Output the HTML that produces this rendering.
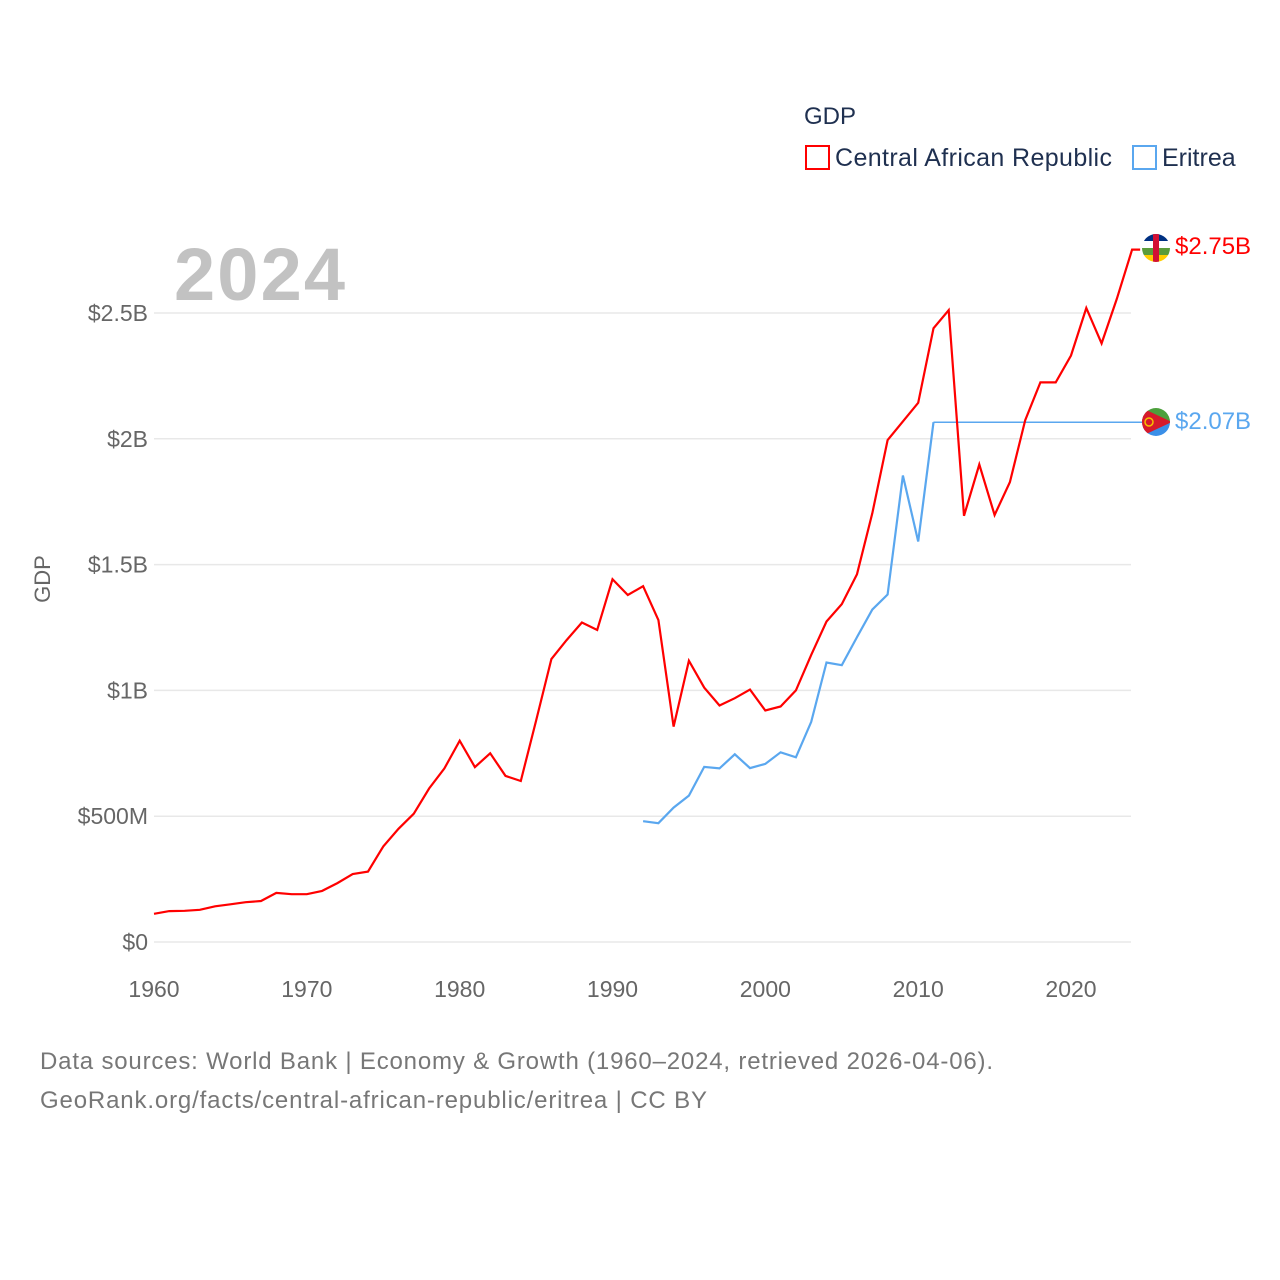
<!DOCTYPE html>
<html><head><meta charset="utf-8">
<style>
html,body{margin:0;padding:0;background:#fff;}
svg{display:block;font-family:"Liberation Sans",sans-serif;}
</style></head>
<body>
<svg id="chart" width="1280" height="1280" viewBox="0 0 1280 1280">
  <g id="grid"></g>
  <g id="yticks"></g>
  <g id="xticks"></g>
  <text x="174" y="300" font-size="74" font-weight="bold" fill="#c2c2c2" textLength="171">2024</text>
  <text transform="translate(50,579) rotate(-90)" font-size="22" fill="#666" text-anchor="middle">GDP</text>
  <g id="series"></g>
  <g>
    <text x="804" y="124" font-size="24" fill="#1f3050">GDP</text>
    <g>
      <rect x="806" y="146" width="23" height="23" fill="none" stroke="#ff0000" stroke-width="2"/>
      <text x="835" y="166" font-size="25" fill="#1f3050" textLength="277">Central African Republic</text>
    </g>
    <g>
      <rect x="1133" y="146" width="23" height="23" fill="none" stroke="#5aa7ef" stroke-width="2"/>
      <text x="1162" y="166" font-size="25" fill="#1f3050">Eritrea</text>
    </g>
  </g>
  <defs>
    <clipPath id="c1"><circle cx="1156" cy="248" r="14"/></clipPath>
    <clipPath id="c2"><circle cx="1156" cy="422" r="14"/></clipPath>
  </defs>
  <g clip-path="url(#c1)">
    <rect x="1142" y="234" width="28" height="7" fill="#003082"/>
    <rect x="1142" y="241" width="28" height="7" fill="#fff"/>
    <rect x="1142" y="248" width="28" height="7" fill="#5a9c3a"/>
    <rect x="1142" y="255" width="28" height="7" fill="#ffce00"/>
    <rect x="1153" y="234" width="6" height="28" fill="#d21034"/>
  </g>
  <g clip-path="url(#c2)">
    <rect x="1142" y="408" width="28" height="14" fill="#4ca03c"/>
    <rect x="1142" y="422" width="28" height="14" fill="#3a8fe8"/>
    <polygon points="1142,408 1172,422 1142,436" fill="#d71a2b"/>
    <circle cx="1149" cy="422" r="4" fill="none" stroke="#f5c300" stroke-width="1.5"/>
  </g>
  <text id="lab1" x="1175" y="254" font-size="24" fill="#ff0000">$2.75B</text>
  <text id="lab2" x="1175" y="429" font-size="24" fill="#5aa7ef">$2.07B</text>
  <text x="40" y="1069" font-size="24" fill="#777" textLength="953">Data sources: World Bank | Economy &amp; Growth (1960–2024, retrieved 2026-04-06).</text>
  <text x="40" y="1108" font-size="24" fill="#777" textLength="667">GeoRank.org/facts/central-african-republic/eritrea | CC BY</text>
</svg>
<script>
const carYears = [1960,1961,1962,1963,1964,1965,1966,1967,1968,1969,1970,1971,1972,1973,1974,1975,1976,1977,1978,1979,1980,1981,1982,1983,1984,1985,1986,1987,1988,1989,1990,1991,1992,1993,1994,1995,1996,1997,1998,1999,2000,2001,2002,2003,2004,2005,2006,2007,2008,2009,2010,2011,2012,2013,2014,2015,2016,2017,2018,2019,2020,2021,2022,2023,2024];
const carValues = [0.112,0.123,0.124,0.128,0.142,0.15,0.158,0.163,0.195,0.19,0.19,0.203,0.234,0.27,0.28,0.38,0.45,0.51,0.61,0.69,0.80,0.695,0.75,0.66,0.64,0.88,1.125,1.20,1.27,1.24,1.442,1.379,1.414,1.28,0.856,1.118,1.011,0.94,0.969,1.003,0.92,0.936,1.0,1.141,1.274,1.343,1.462,1.704,1.995,2.069,2.143,2.439,2.511,1.694,1.898,1.697,1.828,2.074,2.224,2.224,2.331,2.52,2.379,2.556,2.752];
const eriYears = [1992,1993,1994,1995,1996,1997,1998,1999,2000,2001,2002,2003,2004,2005,2006,2007,2008,2009,2010,2011];
const eriValues = [0.48,0.472,0.534,0.582,0.696,0.69,0.746,0.691,0.708,0.754,0.734,0.875,1.111,1.1,1.212,1.321,1.381,1.854,1.592,2.066];
const eriCarryEnd = 2024;
const yTickValues = [0,0.5,1,1.5,2,2.5];
const yTickLabels = ["$0","$500M","$1B","$1.5B","$2B","$2.5B"];
const xTickValues = [1960,1970,1980,1990,2000,2010,2020];

const NS="http://www.w3.org/2000/svg";
const xS = yr => 154 + (yr-1960)*(1071-154)/60;
const yS = v => 942 - v*(942-313)/2.5;
function mk(tag, attrs, parent){const e=document.createElementNS(NS,tag);for(const k in attrs)e.setAttribute(k,attrs[k]);parent.appendChild(e);return e;}
const grid=document.getElementById('grid'), yt=document.getElementById('yticks'), xt=document.getElementById('xticks'), ser=document.getElementById('series');
yTickValues.forEach((v,i)=>{
  const l=mk('line',{x1:154,x2:1131,y1:yS(v),y2:yS(v),stroke:'#e8e8e8','stroke-width':1.5},grid);
  
  
  const t=mk('text',{x:148,y:yS(v)+8,'font-size':23,fill:'#666','text-anchor':'end'},yt);
  t.textContent=yTickLabels[i];
  
  
});
xTickValues.forEach(v=>{
  const t=mk('text',{x:xS(v),y:997,'font-size':23,fill:'#666','text-anchor':'middle'},xt);
  t.textContent=String(v);
  
  
});
const pts=(ys,vs)=>ys.map((y,i)=>xS(y).toFixed(1)+','+yS(vs[i]).toFixed(1)).join(' ');
const eLast=eriValues[eriValues.length-1], eLastYr=eriYears[eriYears.length-1];
const carry=mk('polyline',{points:xS(eLastYr)+','+yS(eLast)+' '+(xS(eriCarryEnd)+10)+','+yS(eLast),fill:'none',stroke:'#5aa7ef','stroke-width':1.5},ser);


const eri=mk('polyline',{points:pts(eriYears,eriValues),fill:'none',stroke:'#5aa7ef','stroke-width':2.2,'stroke-linejoin':'miter'},ser);


const cLast=carValues[carValues.length-1];
const car=mk('polyline',{points:pts(carYears,carValues)+' '+(xS(2024)+8)+','+yS(cLast),fill:'none',stroke:'#ff0000','stroke-width':2.2,'stroke-linejoin':'miter'},ser);


</script>
</body></html>
